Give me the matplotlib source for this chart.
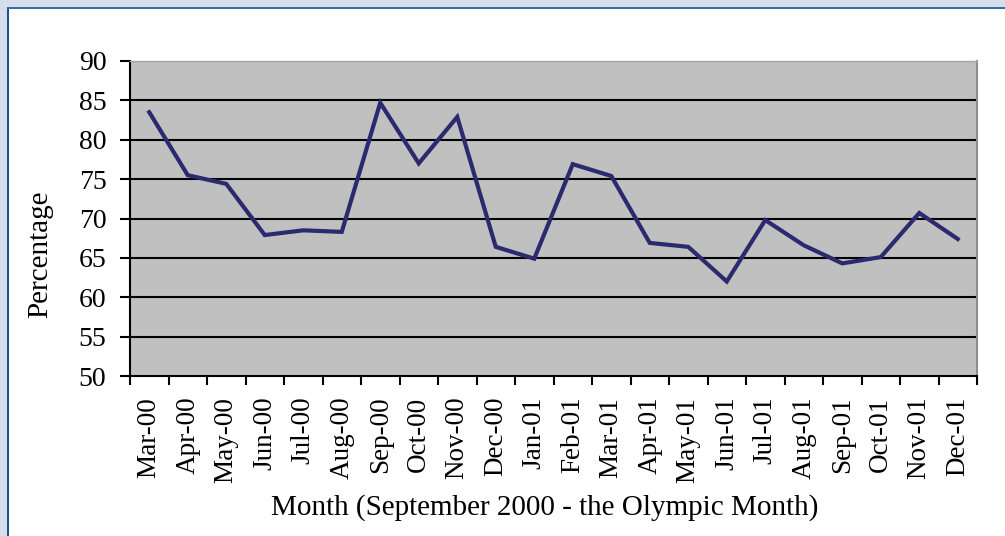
import matplotlib
matplotlib.use("Agg")
import matplotlib.pyplot as plt
from matplotlib.patches import Rectangle

months = ["Mar-00", "Apr-00", "May-00", "Jun-00", "Jul-00", "Aug-00", "Sep-00",
          "Oct-00", "Nov-00", "Dec-00", "Jan-01", "Feb-01", "Mar-01", "Apr-01",
          "May-01", "Jun-01", "Jul-01", "Aug-01", "Sep-01", "Oct-01", "Nov-01", "Dec-01"]
percentage = [83.5, 75.5, 74.4, 67.9, 68.5, 68.3, 84.7, 77.0, 82.9, 66.4, 64.9,
              76.9, 75.4, 66.9, 66.4, 62.0, 69.8, 66.6, 64.3, 65.1, 70.7, 67.4]
y_ticks = [50, 55, 60, 65, 70, 75, 80, 85, 90]

plt.rcParams['font.family'] = ['Liberation Serif', 'DejaVu Serif']

W, H = 1005, 536
fig = plt.figure(figsize=(W / 100, H / 100), dpi=100)
fig.patch.set_facecolor('white')

# Frame decorations (light blue bands with dark blue border line)
fig.patches.append(Rectangle((0, 0), 7 / W, 1, transform=fig.transFigure,
                             facecolor='#d7deeb', edgecolor='none', zorder=0))
fig.patches.append(Rectangle((0, 1 - 7 / H), 1, 7 / H, transform=fig.transFigure,
                             facecolor='#d7deeb', edgecolor='none', zorder=0))
fig.patches.append(Rectangle((7 / W, 0), 2 / W, 1 - 7 / H, transform=fig.transFigure,
                             facecolor='#1f4f8a', edgecolor='none', zorder=0))
fig.patches.append(Rectangle((7 / W, 1 - 9 / H), 1 - 7 / W, 2 / H, transform=fig.transFigure,
                             facecolor='#3a6ba0', edgecolor='none', zorder=0))

left, right, top, bottom = 130 / W, 977 / W, 1 - 61 / H, 1 - 376 / H
ax = fig.add_axes([left, bottom, right - left, top - bottom])
ax.set_facecolor('#c0c0c0')

x = list(range(len(months)))
ax.plot(x, percentage, color='#2c2a6e', lw=3, zorder=3, solid_joinstyle='miter')

ax.set_xlim(-0.5, len(months) - 0.5)
ax.set_ylim(50, 90)
ax.set_yticks(y_ticks)
ax.set_yticklabels([str(v) for v in y_ticks], fontsize=20)
for v in y_ticks[1:]:
    ax.axhline(v, color='black', lw=1.5, zorder=2)

ax.set_xticks([i - 0.5 for i in range(len(months) + 1)])
ax.set_xticklabels([])
ax.set_xticks(x, minor=True)
ax.set_xticklabels(months, minor=True, rotation=90, fontsize=19.5, va='top')
ax.tick_params(axis='x', which='minor', length=0, pad=15)
ax.tick_params(axis='x', which='major', length=6.5, width=1.5, direction='out')
ax.tick_params(axis='y', length=7, width=1.5, direction='out', pad=10)

ax.spines['left'].set_linewidth(1.5)
ax.spines['bottom'].set_linewidth(1.5)
ax.spines['top'].set_color('#a8a8a8')
ax.spines['right'].set_color('#8c8c8c')
ax.spines['top'].set_linewidth(1)
ax.spines['right'].set_linewidth(1.5)

fig.text(40 / W, 1 - 254 / H, "Percentage", rotation=90, fontsize=21,
         ha='center', va='center')
fig.text(545 / W, 1 - 508 / H, "Month (September 2000 - the Olympic Month)",
         fontsize=21, ha='center', va='center')

fig.savefig("out.png", dpi=100)
